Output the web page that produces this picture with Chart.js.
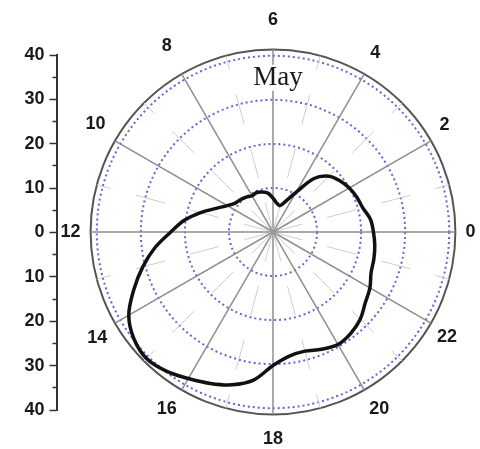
<!DOCTYPE html>
<html><head><meta charset="utf-8">
<script src="https://cdn.jsdelivr.net/npm/chart.js@4.4.1/dist/chart.umd.min.js"></script>
<style>
html,body{margin:0;padding:0;background:#fff;overflow:hidden}
#wrap{position:relative;width:480px;height:449px;overflow:hidden;background:#fff}
#polar{position:absolute;left:0;top:0;width:500px;height:460px}
#axis{position:absolute;left:0;top:0;width:90px;height:449px}
</style></head><body>
<div id="wrap"><canvas id="polar" width="500" height="460"></canvas><canvas id="axis" width="90" height="449"></canvas></div>
<script>
// ---- data ----
const MONTH = 'May';
const HOURS = [0,0.5,1,1.5,2,2.5,3,3.5,4,4.5,5,5.5,6,6.5,7,7.5,8,8.5,9,9.5,10,10.5,11,11.5,
               12,12.5,13,13.5,14,14.5,15,15.5,16,16.5,17,17.5,18,18.5,19,19.5,20,20.5,21,21.5,22,22.5,23,23.5];
const RADIUS = [22.8,22.3,21.1,20.6,20.0,19.1,17.9,15.3,10.3,7.6,6.2,6.6,7.7,8.9,9.4,9.7,9.5,10.0,10.4,10.8,12.0,14.0,17.0,20.3,
                23.2,27.0,30.6,34.2,37.8,39.8,40.6,39.8,38.4,37.2,35.9,33.9,30.3,28.4,28.0,28.8,29.5,29.0,28.0,26.4,25.4,24.1,23.7,23.3];
const HOUR_LABELS = [0,2,4,6,8,10,12,14,16,18,20,22];
const RING_VALUES = [10,20,30,40];
const R_MAX = 41.4;
const AXIS_TICKS = [-40,-35,-30,-25,-20,-15,-10,-5,0,5,10,15,20,25,30,35,40];

// ---- build clockwise order (Chart.js radar goes clockwise; hours run counter-clockwise) ----
const N = HOURS.length;
const order = HOURS.map((h, k) => (N - k) % N);
const cwHours = order.map(j => HOURS[j]);
const cwValues = order.map(j => RADIUS[j]);

const LABEL_FONT = {family: 'Arial, "Liberation Sans", sans-serif', size: 18, weight: 'bold'};
const LABEL_PAD = {6: 19, 18: 14, 8: 20, 4: 12, 10: 11, 22: 7, 14: 9};

const monthPlugin = {
  id: 'monthLabel',
  beforeDatasetsDraw(chart) {
    const s = chart.scales.r;
    const idx = cwHours.indexOf(6);
    const p = s.getPointPosition(idx, s.getDistanceFromCenterForValue(35));
    const ctx = chart.ctx;
    ctx.save();
    ctx.font = '27px "Liberation Serif", "Times New Roman", serif';
    ctx.textAlign = 'center';
    ctx.textBaseline = 'middle';
    const w = ctx.measureText(MONTH).width;
    ctx.fillStyle = '#fff';
    ctx.fillRect(p.x + 5 - w / 2 - 2, p.y - 13, w + 4, 26);
    ctx.fillStyle = '#1a1a1a';
    ctx.fillText(MONTH, p.x + 5, p.y);
    ctx.restore();
  }
};

new Chart(document.getElementById('polar'), {
  type: 'radar',
  data: {
    labels: cwHours.map(String),
    datasets: [{
      label: MONTH,
      data: cwValues,
      borderColor: '#111',
      borderWidth: 3.5,
      fill: false,
      pointRadius: 0,
      pointHoverRadius: 0,
      tension: 0.35
    }]
  },
  options: {
    responsive: false,
    animation: false,
    layout: {padding: {left: 45, top: 7, right: 9, bottom: 7}},
    plugins: {legend: {display: false}, tooltip: {enabled: false}},
    scales: {
      r: {
        min: 0,
        max: R_MAX,
        startAngle: 90,
        afterBuildTicks: s => { s.ticks = [0, ...RING_VALUES, R_MAX].map(v => ({value: v})); },
        ticks: {display: false},
        grid: {
          circular: true,
          color: c => c.tick && c.tick.value >= R_MAX ? '#555' : '#6464dc',
          lineWidth: c => c.tick && c.tick.value >= R_MAX ? 2 : 2
        },
        border: {
          dash: c => c.tick && c.tick.value >= R_MAX ? [] : [2, 3]
        },
        angleLines: {
          color: c => {
            const h = cwHours[c.index];
            if (h % 2 === 0) return '#8e8e8e';
            if (Number.isInteger(h)) return '#cdcdcd';
            return 'rgba(0,0,0,0)';
          },
          lineWidth: c => {
            const h = cwHours[c.index];
            if (h % 2 === 0) return 1.5;
            if (Number.isInteger(h)) return 1;
            return 0;
          },
          borderDash: c => {
            const h = cwHours[c.index];
            return (h % 2 === 0) ? [] : [30, 26];
          }
        },
        pointLabels: {
          display: true,
          font: LABEL_FONT,
          color: '#1a1a1a',
          padding: c => {
            const h = cwHours[c.index];
            return LABEL_PAD[h] !== undefined ? LABEL_PAD[h] : 10;
          },
          callback: (label) => HOUR_LABELS.includes(Number(label)) ? label : ''
        }
      }
    }
  },
  plugins: [monthPlugin]
});

new Chart(document.getElementById('axis'), {
  type: 'scatter',
  data: {datasets: []},
  options: {
    responsive: false,
    animation: false,
    layout: {padding: {left: 23, top: 55, bottom: 39, right: 0}},
    plugins: {legend: {display: false}, tooltip: {enabled: false}},
    scales: {
      x: {display: false, min: 0, max: 1},
      y: {
        position: 'left',
        min: AXIS_TICKS[0],
        max: AXIS_TICKS[AXIS_TICKS.length - 1],
        afterBuildTicks: s => { s.ticks = AXIS_TICKS.map(v => ({value: v})); },
        ticks: {
          autoSkip: false,
          padding: 5,
          color: '#1a1a1a',
          font: LABEL_FONT,
          callback: v => (v % 10 === 0 ? String(Math.abs(v)) : '')
        },
        grid: {
          drawOnChartArea: false,
          tickLength: 7,
          tickWidth: 1.5,
          tickColor: '#333',
          tickBorderDash: c => (c.tick && c.tick.value % 10 === 0) ? [] : [0, 3, 4, 20]
        },
        border: {color: '#333', width: 2}
      }
    }
  }
});
</script>
</body></html>
